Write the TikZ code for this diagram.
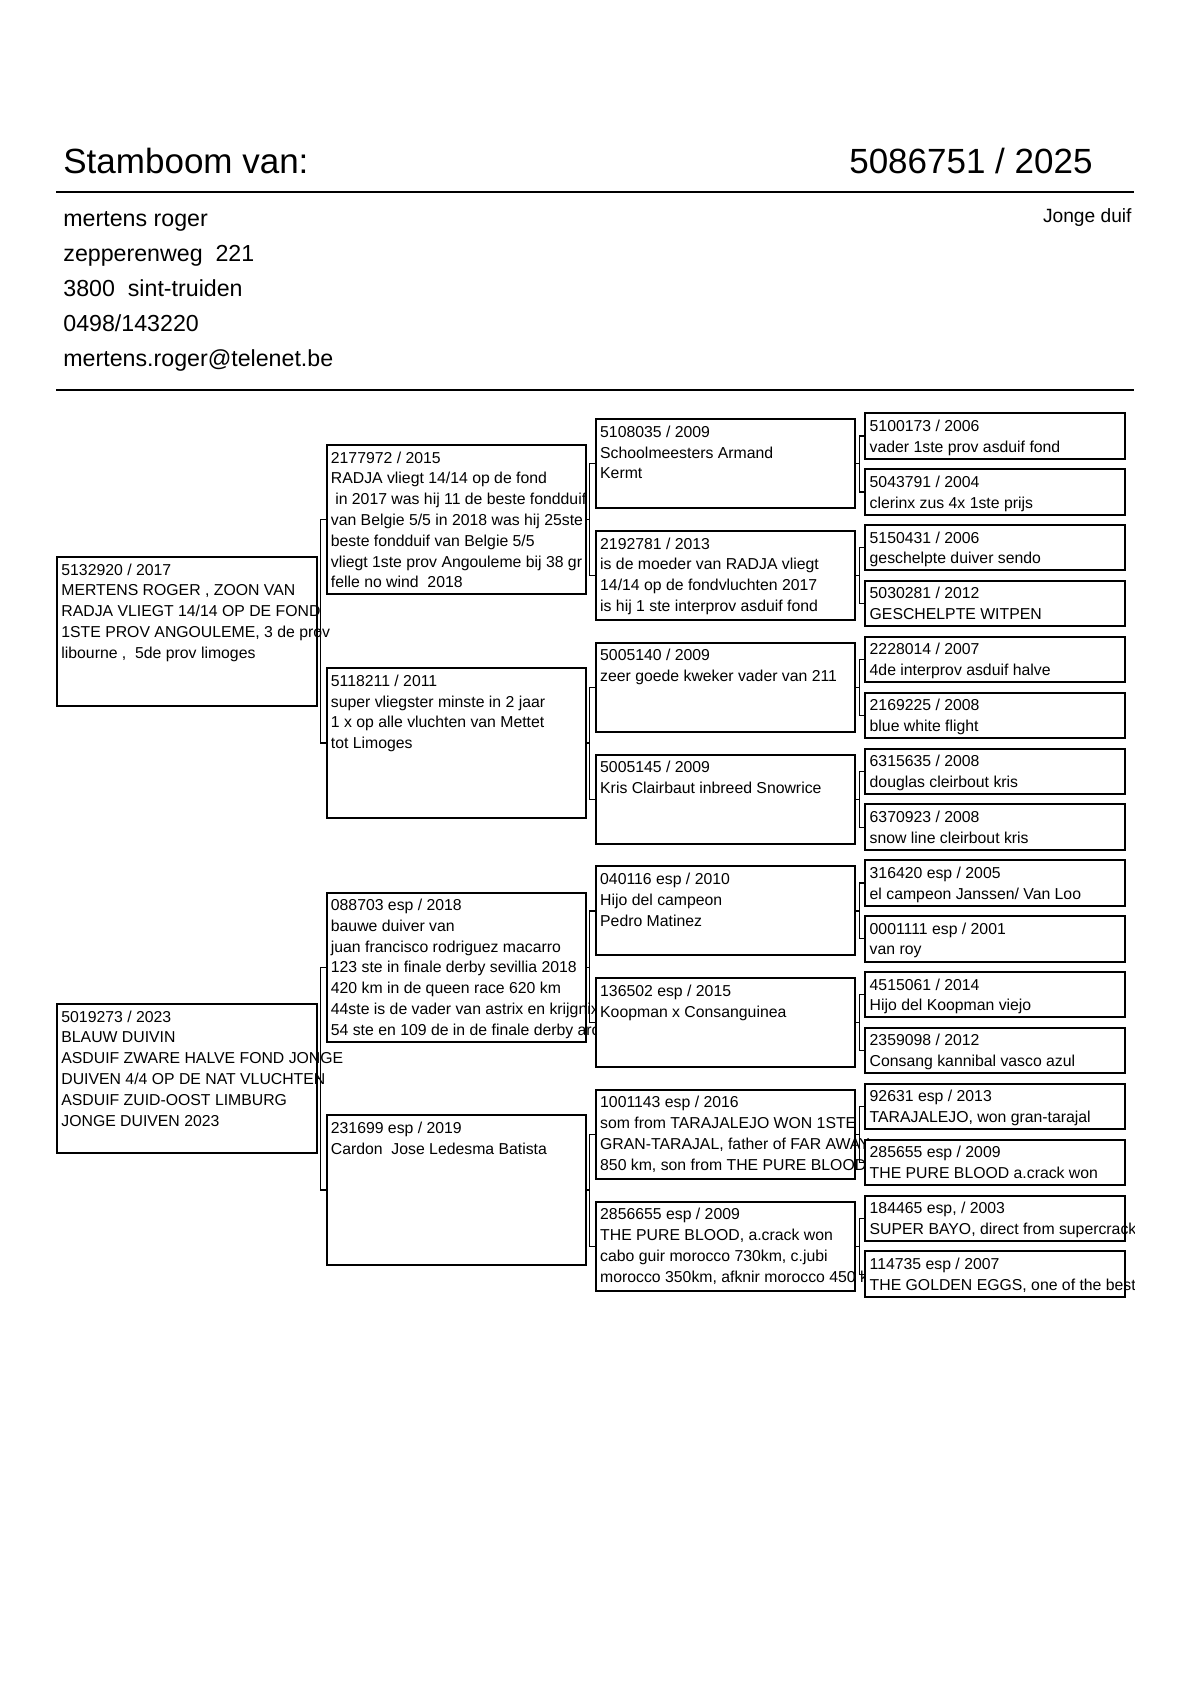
\documentclass[tikz,border=0pt]{standalone}
\usepackage{fontspec}
\setmainfont{Liberation Sans}
\usetikzlibrary{calc}
\newcommand\boxfont{\fontsize{7.9}{10.4}\selectfont}
\newcommand\pedbox[5]{%
  \node[#2] (#1) at (#3,#4) {};
  \node[ptxt] (#1t) at ([xshift=2.5pt,yshift=-9.5pt]#1.north west) {\begin{tabular}[t]{@{}l@{}}#5\end{tabular}};
}
\newcommand\famlink[3]{%
  \draw[link] (#2.west) -- ++(-5,0) |- (#3.west);
  \draw[link] (#1.east) -- ($(#1.east -| #2.west)+(-5,0)$);
}
\tikzset{
  pbox/.style={draw, line width=1pt, fill=white, inner sep=0pt, anchor=north west, minimum width=129.75pt},
  gbig/.style={pbox, minimum height=74.65pt},
  gmid/.style={pbox, minimum height=44.5pt},
  gsmall/.style={pbox, minimum height=22.7pt},
  ptxt/.style={anchor=base west, inner sep=0pt, font=\boxfont},
  link/.style={line width=0.6pt},
  rule/.style={line width=1pt},
  headtxt/.style={inner sep=0pt, font=\fontsize{17.5}{21}\selectfont},
  addrtxt/.style={inner sep=0pt, anchor=base west, font=\fontsize{11.6}{14}\selectfont},
}
\begin{document}
\begin{tikzpicture}[x=0.5pt,y=-0.5pt]
\useasboundingbox (0,0) rectangle (1190,1683);
\fill[white] (0,0) rectangle (1190,1683);

% header
\node[headtxt, anchor=base west] (title) at (63,173) {Stamboom van:};
\node[headtxt, anchor=base east] (ring) at (1093,173) {5086751 / 2025};
\coordinate (r1a) at (56,192); \coordinate (r1b) at (1134,192);
\draw[rule] (r1a) -- (r1b);
\node[addrtxt] (ad1) at (63,226) {mertens roger};
\node[addrtxt] (ad2) at (63,261) {zepperenweg\ \ 221};
\node[addrtxt] (ad3) at (63,296) {3800\ \ sint-truiden};
\node[addrtxt] (ad4) at (63,331) {0498/143220};
\node[addrtxt] (ad5) at (63,366) {mertens.roger@telenet.be};
\node[inner sep=0pt, anchor=base east, font=\fontsize{9.6}{12}\selectfont] (jd) at (1132,222) {Jonge duif};
\coordinate (r2a) at (56,389.5); \coordinate (r2b) at (1134,389.5);
\draw[rule] (r2a) -- (r2b);

% generation 1
\pedbox{a1}{gbig}{56}{556}{5132920 / 2017\\MERTENS ROGER , ZOON VAN\\RADJA VLIEGT 14/14 OP DE FOND\\1STE PROV ANGOULEME, 3 de prov\\libourne ,\ \ 5de prov limoges}
\pedbox{a2}{gbig}{56}{1003}{5019273 / 2023\\BLAUW DUIVIN\\ASDUIF ZWARE HALVE FOND JONGE\\DUIVEN 4/4 OP DE NAT VLUCHTEN\\ASDUIF ZUID-OOST LIMBURG\\JONGE DUIVEN 2023}

% generation 2
\pedbox{b1}{gbig}{325.5}{444}{2177972 / 2015\\RADJA vliegt 14/14 op de fond\\\ in 2017 was hij 11 de beste fondduif\\van Belgie 5/5 in 2018 was hij 25ste\\beste fondduif van Belgie 5/5\\vliegt 1ste prov Angouleme bij 38 gr\\felle no wind\ \ 2018}
\pedbox{b2}{gbig}{325.5}{667.3}{5118211 / 2011\\super vliegster minste in 2 jaar\\1 x op alle vluchten van Mettet\\tot Limoges}
\pedbox{b3}{gbig}{325.5}{891.5}{088703 esp / 2018\\bauwe duiver van\\juan francisco rodriguez macarro\\123 ste in finale derby sevillia 2018\\420 km in de queen race 620 km\\44ste is de vader van astrix en krijgnix\\54 ste en 109 de in de finale derby aro}
\pedbox{b4}{gbig}{325.5}{1114.3}{231699 esp / 2019\\Cardon\ \ Jose Ledesma Batista}

% generation 3
\pedbox{c1}{gmid}{594.8}{418.3}{5108035 / 2009\\Schoolmeesters Armand\\Kermt}
\pedbox{c2}{gmid}{594.8}{530.1}{2192781 / 2013\\is de moeder van RADJA vliegt\\14/14 op de fondvluchten 2017\\is hij 1 ste interprov asduif fond}
\pedbox{c3}{gmid}{594.8}{641.8}{5005140 / 2009\\zeer goede kweker vader van 211}
\pedbox{c4}{gmid}{594.8}{753.6}{5005145 / 2009\\Kris Clairbaut inbreed Snowrice}
\pedbox{c5}{gmid}{594.8}{865.4}{040116 esp / 2010\\Hijo del campeon\\Pedro Matinez}
\pedbox{c6}{gmid}{594.8}{977.2}{136502 esp / 2015\\Koopman x Consanguinea}
\pedbox{c7}{gmid}{594.8}{1088.9}{1001143 esp / 2016\\som from TARAJALEJO WON 1STE\\GRAN-TARAJAL, father of FAR AWAY\\850 km, son from THE PURE BLOOD}
\pedbox{c8}{gmid}{594.8}{1200.7}{2856655 esp / 2009\\THE PURE BLOOD, a.crack won\\cabo guir morocco 730km, c.jubi\\morocco 350km, afknir morocco 450 km}

% generation 4
\begin{scope}
\clip (0,0) rectangle (1134,1683);
\pedbox{d1}{gsmall}{864.3}{412.3}{5100173 / 2006\\vader 1ste prov asduif fond}
\pedbox{d2}{gsmall}{864.3}{468.2}{5043791 / 2004\\clerinx zus 4x 1ste prijs}
\pedbox{d3}{gsmall}{864.3}{524.0}{5150431 / 2006\\geschelpte duiver sendo}
\pedbox{d4}{gsmall}{864.3}{579.9}{5030281 / 2012\\GESCHELPTE WITPEN}
\pedbox{d5}{gsmall}{864.3}{635.8}{2228014 / 2007\\4de interprov asduif halve}
\pedbox{d6}{gsmall}{864.3}{691.7}{2169225 / 2008\\blue white flight}
\pedbox{d7}{gsmall}{864.3}{747.5}{6315635 / 2008\\douglas cleirbout kris}
\pedbox{d8}{gsmall}{864.3}{803.4}{6370923 / 2008\\snow line cleirbout kris}
\pedbox{d9}{gsmall}{864.3}{859.3}{316420 esp / 2005\\el campeon Janssen/ Van Loo}
\pedbox{d10}{gsmall}{864.3}{915.1}{0001111 esp / 2001\\van roy}
\pedbox{d11}{gsmall}{864.3}{971.0}{4515061 / 2014\\Hijo del Koopman viejo}
\pedbox{d12}{gsmall}{864.3}{1026.9}{2359098 / 2012\\Consang kannibal vasco azul}
\pedbox{d13}{gsmall}{864.3}{1082.7}{92631 esp / 2013\\TARAJALEJO, won gran-tarajal}
\pedbox{d14}{gsmall}{864.3}{1138.6}{285655 esp / 2009\\THE PURE BLOOD a.crack won}
\pedbox{d15}{gsmall}{864.3}{1194.5}{184465 esp, / 2003\\SUPER BAYO, direct from supercrack}
\pedbox{d16}{gsmall}{864.3}{1250.4}{114735 esp / 2007\\THE GOLDEN EGGS, one of the best}
\end{scope}

% connectors
\famlink{a1}{b1}{b2}
\famlink{a2}{b3}{b4}
\famlink{b1}{c1}{c2}
\famlink{b2}{c3}{c4}
\famlink{b3}{c5}{c6}
\famlink{b4}{c7}{c8}
\famlink{c1}{d1}{d2}
\famlink{c2}{d3}{d4}
\famlink{c3}{d5}{d6}
\famlink{c4}{d7}{d8}
\famlink{c5}{d9}{d10}
\famlink{c6}{d11}{d12}
\famlink{c7}{d13}{d14}
\famlink{c8}{d15}{d16}
\end{tikzpicture}
\end{document}
